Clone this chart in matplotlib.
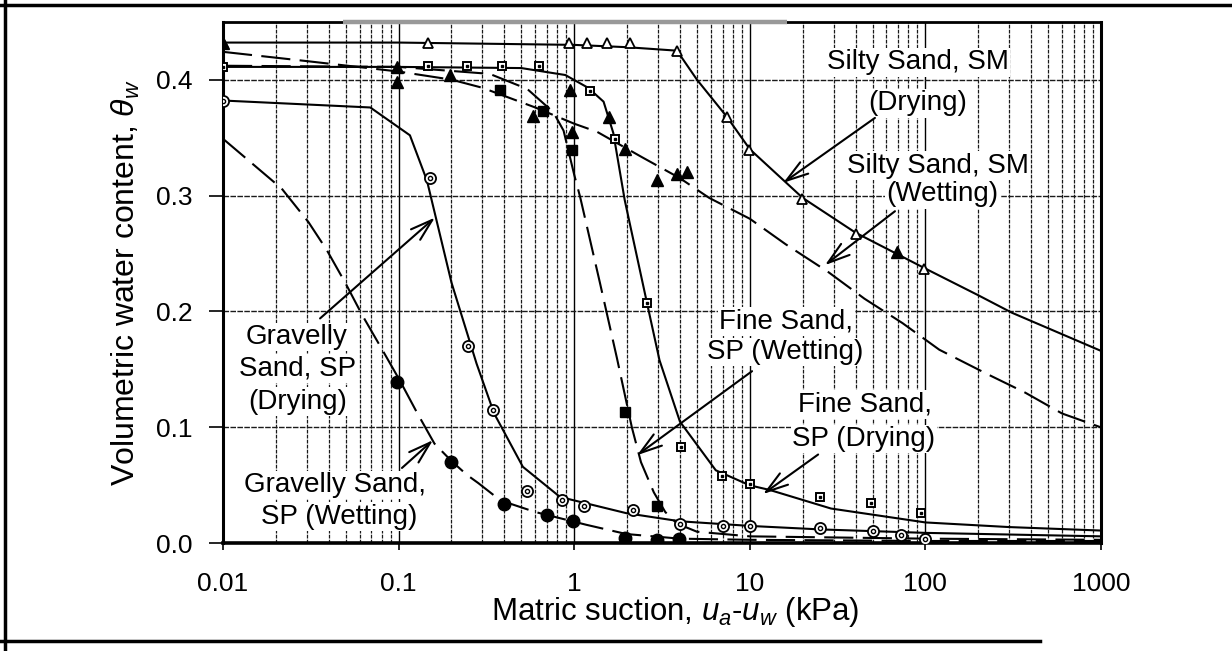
import numpy as np
import matplotlib
matplotlib.use("Agg")
import matplotlib.pyplot as plt
from matplotlib.lines import Line2D
from matplotlib.ticker import LogLocator, FixedLocator, FixedFormatter, NullFormatter

plt.rcParams["font.family"] = ["Liberation Sans", "DejaVu Sans"]
plt.rcParams["mathtext.fontset"] = "custom"
plt.rcParams["mathtext.rm"] = "Liberation Sans"
plt.rcParams["mathtext.it"] = "Liberation Sans:italic"

# ---------------- measured points (matric suction kPa, volumetric water content) ----------------
ss_dry_x = [0.01, 0.148, 0.93, 1.18, 1.54, 2.08, 3.85, 7.4, 9.85, 19.9, 40.4, 97.6]
ss_dry_y = [0.432, 0.432, 0.432, 0.432, 0.432, 0.432, 0.425, 0.368, 0.339, 0.297, 0.267, 0.237]

ss_wet_x = [0.01, 0.098, 0.098, 0.196, 0.585, 0.95, 0.97, 1.57, 1.95, 2.96, 3.85, 4.38, 69.0]
ss_wet_y = [0.432, 0.411, 0.398, 0.404, 0.369, 0.391, 0.355, 0.368, 0.340, 0.313, 0.319, 0.320, 0.251]

fs_dry_x = [0.01, 0.148, 0.244, 0.387, 0.63, 1.23, 1.71, 2.6, 4.08, 6.96, 10.0, 25.0, 49.0, 95.0]
fs_dry_y = [0.411, 0.412, 0.412, 0.412, 0.412, 0.390, 0.349, 0.207, 0.083, 0.058, 0.051, 0.040, 0.035, 0.026]

fs_wet_x = [0.38, 0.667, 0.97, 1.95, 2.96]
fs_wet_y = [0.391, 0.373, 0.339, 0.113, 0.032]

gs_dry_x = [0.01, 0.151, 0.25, 0.346, 0.54, 0.85, 1.14, 2.15, 4.0, 7.0, 10.0, 25.0, 50.0, 73.0, 100.0]
gs_dry_y = [0.382, 0.315, 0.170, 0.115, 0.045, 0.037, 0.032, 0.029, 0.017, 0.015, 0.015, 0.013, 0.011, 0.007, 0.004]

gs_wet_x = [0.098, 0.2, 0.396, 0.70, 0.99, 1.95, 2.96, 3.96]
gs_wet_y = [0.139, 0.070, 0.034, 0.024, 0.019, 0.005, 0.003, 0.004]

# ---------------- fitted characteristic curves ----------------
ss_dry_fit_x = [0.01, 0.1, 1.0, 2.0, 3.85, 5.0, 7.4, 10.0, 20.0, 40.0, 100.0, 200.0, 310.0, 1000.0]
ss_dry_fit_y = [0.432, 0.432, 0.430, 0.428, 0.425, 0.400, 0.368, 0.340, 0.298, 0.268, 0.237, 0.214, 0.199, 0.166]

ss_wet_fit_x = [0.01, 0.03, 0.1, 0.2, 0.3, 0.6, 1.0, 1.35, 2.44, 4.0, 5.87, 10.0, 16.0, 28.0,
                45.0, 74.0, 120.0, 225.0, 370.0, 600.0, 1000.0]
ss_wet_fit_y = [0.424, 0.416, 0.407, 0.400, 0.393, 0.376, 0.362, 0.355, 0.333, 0.315, 0.298, 0.280,
                0.258, 0.234, 0.211, 0.190, 0.167, 0.146, 0.130, 0.112, 0.100]

fs_dry_fit_x = [0.01, 0.1, 0.5, 0.89, 1.2, 1.47, 1.67, 1.94, 2.6, 3.06, 4.0, 6.4, 10.0, 13.0,
                29.0, 100.0, 300.0, 1000.0]
fs_dry_fit_y = [0.411, 0.411, 0.410, 0.404, 0.393, 0.381, 0.354, 0.296, 0.207, 0.158, 0.105, 0.063,
                0.050, 0.046, 0.030, 0.018, 0.014, 0.011]

fs_wet_fit_x = [0.01, 0.1, 0.33, 0.54, 0.76, 0.87, 1.0, 1.08, 1.4, 1.75, 2.13, 2.4, 2.84, 3.3,
                3.85, 5.0, 10.0, 100.0, 1000.0]
fs_wet_fit_y = [0.412, 0.411, 0.405, 0.392, 0.372, 0.356, 0.318, 0.299, 0.225, 0.160, 0.100, 0.070,
                0.044, 0.027, 0.017, 0.010, 0.006, 0.004, 0.003]

gs_dry_fit_x = [0.01, 0.069, 0.116, 0.145, 0.2, 0.278, 0.35, 0.51, 0.83, 1.98, 4.0, 10.0, 25.0,
                100.0, 1000.0]
gs_dry_fit_y = [0.382, 0.376, 0.352, 0.313, 0.225, 0.155, 0.112, 0.066, 0.040, 0.026, 0.019, 0.015,
                0.012, 0.009, 0.006]

gs_wet_fit_x = [0.01, 0.0216, 0.0307, 0.039, 0.05, 0.062, 0.08, 0.102, 0.127, 0.16, 0.2, 0.245,
                0.284, 0.38, 0.6, 1.17, 1.98, 4.0, 10.0, 100.0, 1000.0]
gs_wet_fit_y = [0.349, 0.306, 0.277, 0.253, 0.224, 0.197, 0.168, 0.140, 0.113, 0.086, 0.071, 0.059,
                0.052, 0.037, 0.027, 0.016, 0.008, 0.004, 0.003, 0.002, 0.002]

x_ticks = [0.01, 0.1, 1, 10, 100, 1000]
x_tick_labels = ["0.01", "0.1", "1", "10", "100", "1000"]
y_ticks = [0.0, 0.1, 0.2, 0.3, 0.4]
y_tick_labels = ["0.0", "0.1", "0.2", "0.3", "0.4"]

# ---------------- figure ----------------
W, H = 1232, 651
fig = plt.figure(figsize=(W / 100, H / 100), dpi=100)
ax_l, ax_r, ax_t, ax_b = 223, 1101, 21.7, 543.3
ax = fig.add_axes([ax_l / W, (H - ax_b) / H, (ax_r - ax_l) / W, (ax_b - ax_t) / H])
ax.set_xscale("log")
ax.set_xlim(0.01, 1000)
ax.set_ylim(0, 0.45)

ax.xaxis.set_major_locator(FixedLocator(x_ticks))
ax.xaxis.set_major_formatter(FixedFormatter(x_tick_labels))
ax.xaxis.set_minor_locator(LogLocator(base=10, subs=np.arange(2, 10)))
ax.xaxis.set_minor_formatter(NullFormatter())
ax.yaxis.set_major_locator(FixedLocator(y_ticks))
ax.yaxis.set_major_formatter(FixedFormatter(y_tick_labels))

ax.set_axisbelow(True)
ax.grid(True, which="major", axis="x", color="black", linewidth=1.0, linestyle="-")
ax.grid(True, which="minor", axis="x", color="0.1", linewidth=0.9, linestyle=(0, (3, 1)))
ax.grid(True, which="major", axis="y", color="0.1", linewidth=1.0, linestyle=(0, (4, 1)))

ax.tick_params(axis="x", which="major", direction="out", length=5, width=1.2, pad=16,
               labelsize=19)
ax.tick_params(axis="x", which="minor", length=0)
ax.tick_params(axis="y", which="major", direction="out", length=10, width=1.2, pad=12,
               labelsize=19)

for side, lw in (("left", 2.2), ("bottom", 2.6), ("right", 2.2), ("top", 2.0)):
    ax.spines[side].set_linewidth(lw)
    ax.spines[side].set_color("black")
ax.plot([0.137, 0.642], [1, 1], transform=ax.transAxes, color="0.6", lw=3.2,
        solid_capstyle="butt", clip_on=False, zorder=6)

# fitted curves
dash = (0, (14, 4.5))
line_kw = dict(color="black", lw=1.5, zorder=4)
ax.plot(ss_dry_fit_x, ss_dry_fit_y, ls="-", **line_kw)
ax.plot(ss_wet_fit_x, ss_wet_fit_y, ls=dash, **line_kw)
ax.plot(fs_dry_fit_x, fs_dry_fit_y, ls="-", **line_kw)
ax.plot(fs_wet_fit_x, fs_wet_fit_y, ls=dash, **line_kw)
ax.plot(gs_dry_fit_x, gs_dry_fit_y, ls="-", **line_kw)
ax.plot(gs_wet_fit_x, gs_wet_fit_y, ls=dash, **line_kw)

# measured points
ax.plot(ss_dry_x, ss_dry_y, ls="none", marker="^", ms=7, mfc="white", mec="black", mew=1.3, zorder=5)
ax.plot(ss_wet_x, ss_wet_y, ls="none", marker="^", ms=8.5, mfc="black", mec="black", zorder=5)
ax.plot(fs_dry_x, fs_dry_y, ls="none", marker="s", ms=6, mfc="white", mec="black", mew=1.4, zorder=5)
ax.plot(fs_dry_x, fs_dry_y, ls="none", marker="s", ms=2.0, mfc="black", mec="black", zorder=6)
ax.plot(fs_wet_x, fs_wet_y, ls="none", marker="s", ms=7.5, mfc="black", mec="black", zorder=5)
ax.plot(gs_dry_x, gs_dry_y, ls="none", marker="o", ms=8, mfc="white", mec="black", mew=1.3, zorder=5)
ax.plot(gs_dry_x, gs_dry_y, ls="none", marker="o", ms=3, mfc="none", mec="black", mew=1.0, zorder=6)
ax.plot(gs_wet_x, gs_wet_y, ls="none", marker="o", ms=9, mfc="black", mec="black", zorder=5)

# curve labels (one entry per text line) and their pointer arrows
label_lines = [
    ("Silty Sand, SM", 90.8, 0.415), ("(Drying)", 90.8, 0.3795),
    ("Silty Sand, SM", 118.0, 0.3257), ("(Wetting)", 124.5, 0.301),
    ("Fine Sand,", 16.1, 0.1916), ("SP (Wetting)", 15.9, 0.165),
    ("Fine Sand,", 45.3, 0.1197), ("SP (Drying)", 44.7, 0.0899),
    ("Gravelly", 0.0264, 0.178), ("Sand, SP", 0.0265, 0.151), ("(Drying)", 0.0267, 0.122),
    ("Gravelly Sand,", 0.0434, 0.0503), ("SP (Wetting)", 0.0458, 0.0229),
]
arrows = [
    ((51.6, 0.367), (15.5, 0.311)),
    ((67.1, 0.2865), (26.8, 0.240)),
    ((10.3, 0.1485), (2.28, 0.076)),
    ((24.5, 0.0766), (11.9, 0.0425)),
    ((0.0357, 0.194), (0.161, 0.281)),
    ((0.1045, 0.065), (0.157, 0.089)),
]
for text, xv, yv in label_lines:
    ax.text(xv, yv, text, ha="center", va="center", fontsize=20, zorder=3,
            bbox=dict(facecolor="white", edgecolor="none", pad=1.0))
for tail, tip in arrows:
    ax.annotate("", xy=tip, xytext=tail, zorder=4,
                arrowprops=dict(arrowstyle="->,head_length=0.8,head_width=0.25", lw=1.5,
                                color="black", shrinkA=0, shrinkB=0, mutation_scale=20))

# axis titles
fig.text(675 / W, 1 - 612 / H, r"Matric suction, $u_a$-$u_w$ (kPa)", ha="center", va="center",
         fontsize=22.5)
fig.text(126 / W, 1 - 282.5 / H, r"Volumetric water content, $\theta_w$", ha="center",
         va="center", rotation=90, fontsize=23)

# page frame
fig.add_artist(Line2D([0, 1], [1 - 5 / H, 1 - 5 / H], transform=fig.transFigure, color="black", lw=2.5))
fig.add_artist(Line2D([5 / W, 5 / W], [0, 1], transform=fig.transFigure, color="black", lw=2.5))
fig.add_artist(Line2D([0, 1040 / W], [1 - 641 / H, 1 - 641 / H], transform=fig.transFigure,
                      color="black", lw=2.5))

fig.savefig("out.png", dpi=100, facecolor="white")
